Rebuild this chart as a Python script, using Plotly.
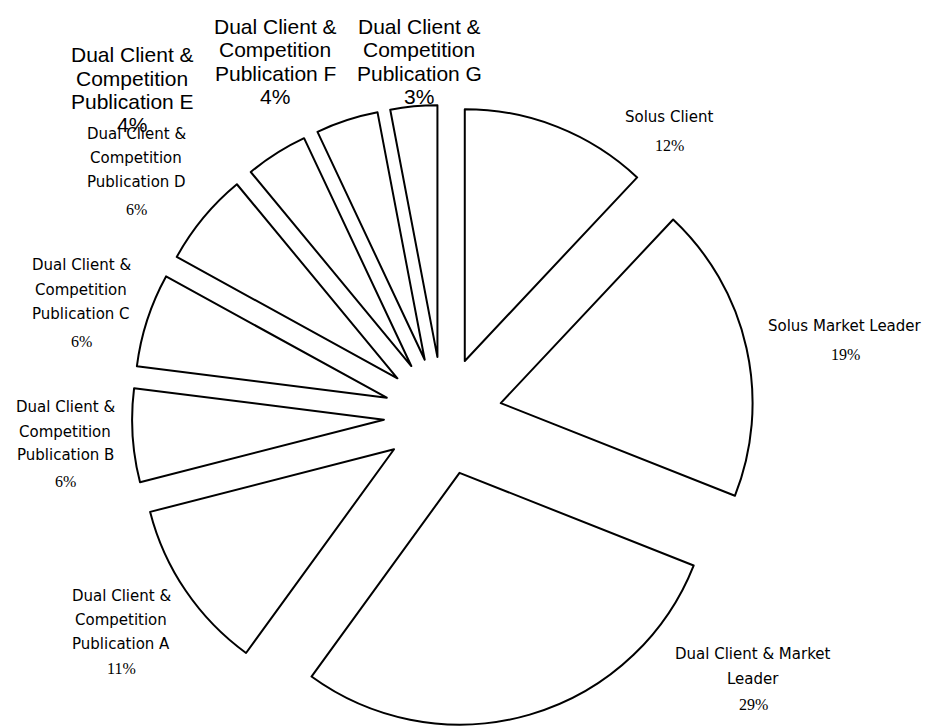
import plotly.graph_objects as go

# ---- data ----
labels = [
    "Solus Client",
    "Solus Market Leader",
    "Dual Client & Market Leader",
    "Dual Client & Competition Publication A",
    "Dual Client & Competition Publication B",
    "Dual Client & Competition Publication C",
    "Dual Client & Competition Publication D",
    "Dual Client & Competition Publication E",
    "Dual Client & Competition Publication F",
    "Dual Client & Competition Publication G",
]
values = [12, 19, 29, 11, 6, 6, 6, 4, 4, 3]
label_lines = [
    ["Solus Client"],
    ["Solus Market Leader"],
    ["Dual Client & Market", "Leader"],
    ["Dual Client &", "Competition", "Publication A"],
    ["Dual Client &", "Competition", "Publication B"],
    ["Dual Client &", "Competition", "Publication C"],
    ["Dual Client &", "Competition", "Publication D"],
    ["Dual Client &", "Competition", "Publication E"],
    ["Dual Client &", "Competition", "Publication F"],
    ["Dual Client &", "Competition", "Publication G"],
]

# ---- layout / style ----
W, H = 928, 727
ML, MR, MT, MB = 0, 42, 105, 0
PW, PH = W - ML - MR, H - MT - MB

# label placement (pixel centre x, y of each text line incl. percent line)
label_pos = [
    (669, [117, 145]),
    (845, [326, 354]),
    (753, [654, 679, 704]),
    (121, [596, 620, 644, 668]),
    (65, [407, 432, 455, 481]),
    (81, [265, 290, 314, 341]),
    (136, [134, 158, 182, 209]),
    (132, [55, 79, 102, 124]),
    (275, [26, 50, 73, 97]),
    (419, [26, 50, 73, 97]),
]
big_style = [False, False, False, False, False, False, False, True, True, True]

fig = go.Figure(go.Pie(
    labels=labels,
    values=values,
    sort=False,
    direction="clockwise",
    rotation=0,
    pull=[0.235] * len(values),
    marker=dict(colors=["white"] * len(values), line=dict(color="black", width=2)),
    textinfo="none",
    hoverinfo="skip",
    showlegend=False,
))


def px2paper(x, y):
    return (x - ML) / PW, 1 - (y - MT) / PH


annotations = []
total = sum(values)
for lines, val, (cx, ys), big in zip(label_lines, values, label_pos, big_style):
    pct = f"{round(val / total * 100)}%"
    texts = lines + [pct]
    for i, (t, y) in enumerate(zip(texts, ys)):
        is_pct = i == len(texts) - 1
        if big:
            font = dict(family="Liberation Sans, Arial", size=21, color="black")
        elif is_pct:
            font = dict(family="Liberation Serif, Times New Roman", size=16, color="black")
        else:
            font = dict(family="DejaVu Sans", size=15, color="black")
        xp, yp = px2paper(cx, y)
        annotations.append(dict(
            x=xp, y=yp, xref="paper", yref="paper", text=t, showarrow=False,
            xanchor="center", yanchor="middle", font=font,
        ))

fig.update_layout(
    width=W, height=H,
    margin=dict(l=ML, r=MR, t=MT, b=MB),
    paper_bgcolor="white", plot_bgcolor="white",
    annotations=annotations,
)

fig.write_html("out.html")
